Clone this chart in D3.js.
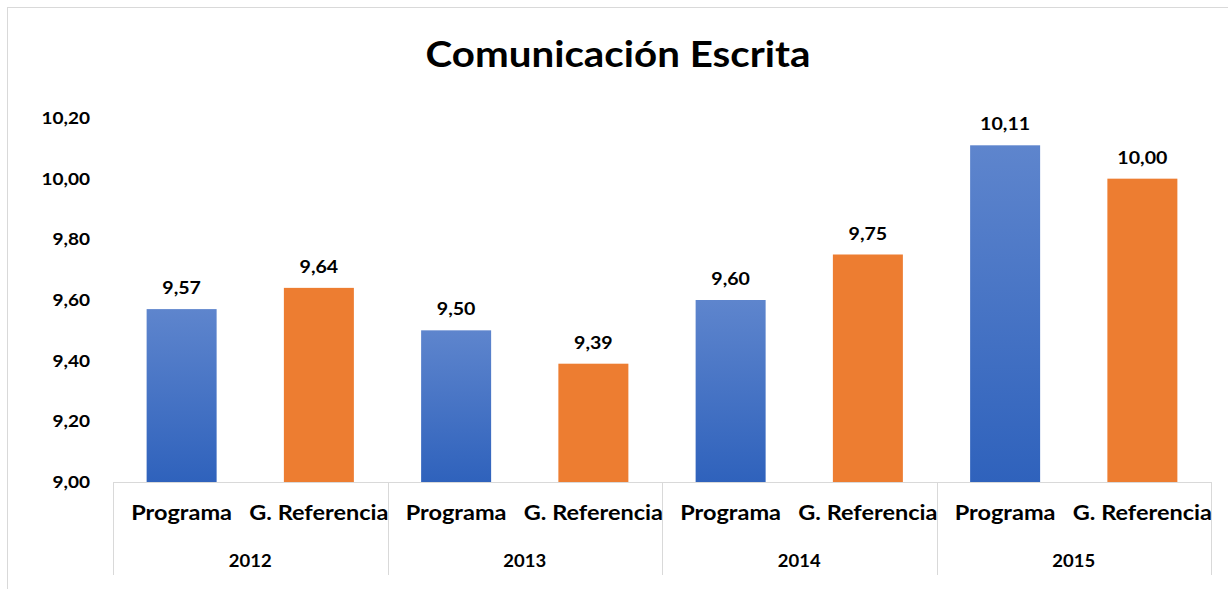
<!DOCTYPE html>
<html lang="es">
<head>
<meta charset="UTF-8"/>
<title>Comunicación Escrita</title>
<script src="https://d3js.org/d3.v7.min.js"></script>
<style>
    body { margin: 0; background: #fff; }
    svg { display: block; font-family: Lato, "Open Sans", sans-serif; }
    text { font-weight: bold; fill: #000; }
</style>
</head>
<body>
<script>
    // chart data
    var years = ["2012", "2013", "2014", "2015"];
    var series = ["Programa", "G. Referencia"];
    var programa = [9.57, 9.50, 9.60, 10.11];
    var referencia = [9.64, 9.39, 9.75, 10.00];
    var yTicks = [9.00, 9.20, 9.40, 9.60, 9.80, 10.00, 10.20];

    var w = 1228;
    var h = 589;
    var plotLeft = 113, plotRight = 1211, plotTop = 118, plotBottom = 482;
    var sx = 1.12;   // text in the reference is a bit wide

    var fmt = function(v) { return v.toFixed(2).replace(".", ","); };

    var rows = [];
    years.forEach(function(y, i) {
        rows.push({ year: y, s: series[0], v: programa[i] });
        rows.push({ year: y, s: series[1], v: referencia[i] });
    });

    var svg = d3.select("body").append("svg")
        .attr("width", w)
        .attr("height", h);

    // stretched text helper
    function label(parent, x, y, size, anchor, str, cls) {
        var g = parent.append("g")
            .attr("transform", "translate(" + x + "," + y + ") scale(" + sx + ",1)");
        g.append("text")
            .attr("class", cls || null)
            .attr("text-anchor", anchor)
            .style("font-size", size + "px")
            .text(str);
        return g;
    }

    var defs = svg.append("defs");
    var grad = defs.append("linearGradient")
        .attr("id", "blueGrad")
        .attr("x1", 0).attr("y1", 0).attr("x2", 0).attr("y2", 1);
    grad.append("stop").attr("offset", "0%").attr("stop-color", "#5E85CD");
    grad.append("stop").attr("offset", "100%").attr("stop-color", "#2F62BC");

    // chart border
    svg.append("rect")
        .attr("x", 7.5).attr("y", 7.5)
        .attr("width", w + 20).attr("height", h + 20)
        .attr("fill", "none")
        .attr("stroke", "#D9D9D9");

    label(svg, 618, 67, 36, "middle", "Comunicación Escrita");

    var x0 = d3.scaleBand().domain(years).range([plotLeft, plotRight]);
    var x1 = d3.scaleBand().domain(series).range([0, x0.bandwidth()])
        .paddingInner(0.49).paddingOuter(0.245);
    var yScale = d3.scaleLinear().domain([9.0, 10.2]).range([plotBottom, plotTop]);

    // y tick labels, no axis line
    var yAxis = d3.axisLeft(yScale)
        .tickValues(yTicks)
        .tickSize(0)
        .tickPadding(0)
        .tickFormat(fmt);

    var yg = svg.append("g")
        .attr("transform", "translate(90,0)")
        .call(yAxis);
    yg.select(".domain").remove();
    yg.selectAll(".tick text")
        .attr("fill", "#000")
        .attr("transform", "scale(" + sx + ",1)")
        .style("font-family", "Lato, sans-serif")
        .style("font-size", "17px")
        .style("font-weight", "bold");

    svg.selectAll("rect.bar")
        .data(rows)
        .enter()
        .append("rect")
        .attr("class", "bar")
        .attr("x", function(d) { return x0(d.year) + x1(d.s); })
        .attr("y", function(d) { return yScale(d.v); })
        .attr("width", x1.bandwidth())
        .attr("height", function(d) { return plotBottom - yScale(d.v); })
        .attr("fill", function(d) { return d.s === series[0] ? "url(#blueGrad)" : "#ED7D31"; });

    // value labels
    rows.forEach(function(d) {
        label(svg, x0(d.year) + x1(d.s) + x1.bandwidth() / 2, yScale(d.v) - 15,
            17.5, "middle", fmt(d.v), "val");
    });

    // category axis
    svg.append("line")
        .attr("x1", plotLeft).attr("x2", plotRight)
        .attr("y1", plotBottom + 0.5).attr("y2", plotBottom + 0.5)
        .attr("stroke", "#D9D9D9");

    var seps = years.map(function(y) { return x0(y); }).concat([plotRight]);
    svg.selectAll("line.sep")
        .data(seps)
        .enter()
        .append("line")
        .attr("class", "sep")
        .attr("x1", function(d) { return Math.round(d) + 0.5; })
        .attr("x2", function(d) { return Math.round(d) + 0.5; })
        .attr("y1", plotBottom)
        .attr("y2", 575)
        .attr("stroke", "#D9D9D9");

    rows.forEach(function(d) {
        label(svg, x0(d.year) + x1(d.s) + x1.bandwidth() / 2, 520, 21, "middle", d.s, "cat");
    });

    years.forEach(function(y) {
        label(svg, x0(y) + x0.bandwidth() / 2, 567, 16.5, "middle", y, "year");
    });
</script>
</body>
</html>
